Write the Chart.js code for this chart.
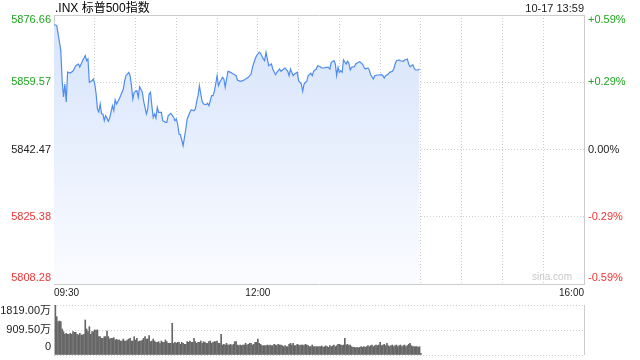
<!DOCTYPE html>
<html>
<head>
<meta charset="utf-8">
<script src="https://cdn.jsdelivr.net/npm/chart.js@4/dist/chart.umd.min.js"></script>
<style>
  html,body{margin:0;padding:0;background:#fff;}
  #wrap{position:relative;width:640px;height:360px;overflow:hidden;font-family:"Liberation Sans",Arial,"Noto Sans CJK SC",sans-serif;}
  #price{position:absolute;left:0;top:0;}
  #vol{position:absolute;left:0;top:300px;}
  #title{position:absolute;left:55px;top:0px;font-size:12px;line-height:16px;color:#000;white-space:nowrap;}
  #stamp{position:absolute;right:56px;top:0px;font-size:11px;line-height:16px;color:#222;white-space:nowrap;}
  #wm{position:absolute;left:532px;top:271px;font-size:10px;line-height:12px;color:#c8c8c8;}
</style>
</head>
<body>
<div id="wrap">
  <canvas id="price" width="640" height="300"></canvas>
  <canvas id="vol" width="640" height="60"></canvas>
  <div id="title">.INX 标普500指数</div>
  <div id="stamp">10-17 13:59</div>
  <div id="wm">sina.com</div>
</div>
<script>
// ---- data ----
const prevClose = 5842.47;
const priceTicks = [5808.28, 5825.38, 5842.47, 5859.57, 5876.66];
const priceTickLabels = ['5808.28', '5825.38', '5842.47', '5859.57', '5876.66'];
const pctTickLabels = ['-0.59%', '-0.29%', '0.00%', '+0.29%', '+0.59%'];
const timeTickValues = [0, 150, 390];
const timeTickLabels = ['09:30', '12:00', '16:00'];
const gridMinutes = [0, 30, 60, 90, 120, 150, 180, 210, 240, 270, 300, 330, 360, 390];
const volTicks = [0, 909.5, 1819];
const volTickLabels = ['0', '909.50万', '1819.00万'];

// minutes after 09:30
const minutes = [0,2,4,5,6,7,8,9,10,12,14,16,18,19,21,23,24,25,26,28,29,30,31,32,33,34,35,36,37,38,40,41,43,44,45,46,48,49,51,52,53,55,56,57,58,59,61,62,63,65,66,68,69,70,71,72,73,74,75,76,77,79,80,82,83,84,86,88,89,90,91,92,93,95,96,97,98,100,101,103,104,105,106,107,108,109,110,112,113,114,116,117,118,119,120,121,122,124,125,126,127,128,130,131,132,134,135,137,139,141,143,145,146,148,149,151,152,154,155,156,157,158,160,161,163,164,166,167,169,170,172,173,174,176,177,179,180,181,182,183,184,186,187,189,190,191,193,194,196,197,199,200,202,203,204,206,207,208,209,210,211,212,213,215,216,217,218,219,221,222,224,225,227,228,229,231,232,233,235,236,238,239,241,242,243,244,246,247,249,250,251,252,254,255,257,258,260,261,262,263,264,265,266,268,269];
const prices = [5874.19,5874.00,5869.80,5867.59,5859.96,5855.82,5859.12,5854.54,5862.17,5861.92,5862.42,5863.77,5864.20,5863.44,5865.04,5866.31,5865.04,5865.48,5859.55,5859.96,5860.39,5859.12,5856.58,5852.77,5852.00,5854.04,5851.49,5851.49,5849.79,5851.06,5849.64,5850.48,5853.60,5852.33,5855.05,5854.04,5855.31,5856.15,5857.85,5859.96,5861.23,5862.09,5861.23,5858.69,5855.31,5857.01,5857.42,5855.74,5858.43,5857.01,5854.72,5851.49,5852.77,5856.58,5857.01,5853.60,5850.66,5851.49,5850.48,5853.20,5851.93,5851.93,5849.79,5849.38,5849.38,5851.06,5851.67,5850.66,5849.79,5850.22,5848.95,5846.41,5846.23,5843.44,5845.57,5847.68,5850.22,5851.93,5852.59,5852.33,5852.77,5854.72,5856.15,5858.69,5856.58,5854.72,5854.04,5853.86,5854.21,5853.60,5856.15,5856.15,5857.26,5859.12,5861.23,5858.69,5859.55,5860.82,5860.39,5858.28,5860.39,5862.35,5862.09,5861.84,5861.66,5861.23,5860.14,5859.81,5859.96,5860.39,5860.82,5861.66,5863.37,5865.48,5866.31,5867.18,5866.92,5865.48,5865.04,5867.18,5865.48,5863.77,5864.20,5862.93,5861.48,5862.09,5862.93,5862.35,5862.93,5863.19,5862.35,5861.23,5862.93,5861.23,5861.66,5862.09,5859.96,5859.55,5859.12,5857.26,5859.12,5859.81,5861.23,5861.84,5861.23,5862.35,5862.93,5863.77,5863.52,5863.19,5863.19,5863.37,5863.37,5862.93,5864.64,5865.04,5864.20,5861.23,5863.37,5862.09,5862.50,5862.09,5865.22,5864.20,5864.89,5864.38,5862.68,5863.37,5863.52,5864.20,5864.64,5864.79,5864.20,5863.52,5862.93,5863.19,5862.68,5861.48,5860.39,5861.23,5861.41,5861.41,5861.48,5861.23,5860.65,5861.23,5861.66,5862.09,5862.35,5862.93,5864.20,5865.04,5865.22,5865.04,5864.89,5865.22,5865.48,5864.20,5863.52,5863.77,5864.03,5863.19,5862.68,5862.68,5862.93];

// volume per minute (万)
const volumes = [
1819,1395,1213,1237,1213,946,849,752,788,752,
752,788,752,849,825,825,752,728,788,728,
728,752,1274,946,849,1031,752,849,849,910,
910,910,667,667,607,607,667,667,873,667,
582,607,607,631,546,570,546,546,509,509,
582,509,509,546,582,607,509,509,667,546,
607,485,509,509,546,607,667,582,582,704,
485,509,582,509,461,461,485,425,509,461,
461,546,485,425,425,425,1152,425,461,425,
461,461,388,461,425,388,388,485,461,509,
461,461,607,485,425,461,461,509,425,485,
461,425,425,485,509,425,461,485,485,509,
425,425,752,364,388,364,425,364,364,388,
340,388,485,485,364,340,364,340,364,364,
425,364,388,425,425,364,388,461,461,582,
425,388,340,340,340,340,364,340,364,340,
340,388,364,340,388,364,364,340,303,340,
303,303,388,425,364,425,340,340,388,364,
340,364,364,340,388,364,340,303,303,364,
303,303,303,303,303,303,330,280,303,330,
303,280,340,303,330,364,303,340,388,388,
364,340,364,607,364,388,340,364,303,280,
280,260,280,260,280,303,280,303,280,303,
340,303,340,364,303,340,364,340,364,461,
340,364,388,340,425,340,303,340,364,303,
340,364,303,340,364,303,340,364,303,340,
388,425,340,303,303,303,303,280,303,60
];

// ---- styling ----
const FAMILY = '"Liberation Sans", Arial, "Noto Sans CJK SC", sans-serif';
const GREEN = '#1ea51e', RED = '#f23535', NEUTRAL = '#222';
const GRID = '#cdcdcd', FRAME = '#cccccc', CLEAR = 'rgba(0,0,0,0)';
function tickColor(v) { return v > prevClose + 0.001 ? GREEN : (v < prevClose - 0.001 ? RED : NEUTRAL); }
function edgeLabel(label, i, n) {
  if (i === n - 1) return ['', label];
  if (i === 0) return [label, ''];
  return label;
}
function edgeFont(i, n, topLH, botLH) {
  let lh = 1.2;
  if (i === n - 1) lh = topLH;
  else if (i === 0) lh = botLH;
  return { family: FAMILY, size: 11, lineHeight: lh };
}
function noPad(s) { s.paddingTop = 0; s.paddingBottom = 0; }
const pMin = priceTicks[0], pMax = priceTicks[priceTicks.length - 1];

new Chart(document.getElementById('price'), {
  type: 'line',
  data: {
    datasets: [{
      data: minutes.map((m, i) => ({ x: m, y: prices[i] })),
      borderColor: '#4f8cf0',
      borderWidth: 1.2,
      pointRadius: 0,
      tension: 0,
      fill: 'start',
      backgroundColor: (ctx) => {
        const a = ctx.chart.chartArea;
        if (!a) return CLEAR;
        const g = ctx.chart.ctx.createLinearGradient(0, a.top, 0, a.bottom);
        g.addColorStop(0, '#d5e3fb');
        g.addColorStop(1, '#fbfcff');
        return g;
      }
    }]
  },
  options: {
    responsive: false, animation: false, devicePixelRatio: 1,
    layout: { padding: { top: 15, left: 0, right: 0, bottom: 0 } },
    plugins: { legend: { display: false }, tooltip: { enabled: false } },
    scales: {
      x: {
        type: 'linear', position: 'bottom', min: 0, max: 390,
        afterBuildTicks: (s) => { s.ticks = gridMinutes.map(v => ({ value: v })); },
        afterFit: (s) => { s.height = 16; s.paddingLeft = 0; s.paddingRight = 0; },
        grid: { drawTicks: false, color: (c) => (c.tick && (c.tick.value === 0 || c.tick.value === 390)) ? CLEAR : GRID },
        border: { display: true, color: FRAME, dash: [1, 2] },
        ticks: {
          autoSkip: false, maxRotation: 0, minRotation: 0, align: 'inner', padding: 3,
          color: '#222', font: { family: FAMILY, size: 10 },
          callback: (v) => { const k = timeTickValues.indexOf(v); return k >= 0 ? timeTickLabels[k] : ''; }
        }
      },
      x2: {
        type: 'linear', position: 'top', min: 0, max: 390,
        afterFit: (s) => { s.height = 0; },
        grid: { display: false, drawTicks: false },
        ticks: { display: false },
        border: { display: true, color: FRAME }
      },
      y: {
        type: 'linear', position: 'left', min: pMin, max: pMax,
        afterBuildTicks: (s) => { s.ticks = priceTicks.map(v => ({ value: v })); },
        afterFit: (s) => { s.width = 54; noPad(s); },
        grid: { drawTicks: false, color: (c) => (c.index === 0 || c.index === priceTicks.length - 1) ? CLEAR : GRID },
        border: { display: true, color: FRAME, dash: [1, 2] },
        ticks: {
          autoSkip: false, padding: 3,
          color: (c) => tickColor(priceTicks[c.index]),
          font: (c) => edgeFont(c.index, priceTicks.length, '9.6px', '12px'),
          callback: (v, i) => edgeLabel(priceTickLabels[i], i, priceTicks.length)
        }
      },
      y2: {
        type: 'linear', position: 'right', min: pMin, max: pMax,
        afterBuildTicks: (s) => { s.ticks = priceTicks.map(v => ({ value: v })); },
        afterFit: (s) => { s.width = 56; noPad(s); },
        grid: { display: false, drawTicks: false },
        border: { display: true, color: FRAME },
        ticks: {
          autoSkip: false, padding: 4,
          color: (c) => tickColor(priceTicks[c.index]),
          font: (c) => edgeFont(c.index, priceTicks.length, '9.6px', '12px'),
          callback: (v, i) => edgeLabel(pctTickLabels[i], i, priceTicks.length)
        }
      }
    }
  }
});

new Chart(document.getElementById('vol'), {
  type: 'bar',
  data: {
    datasets: [{
      data: volumes.map((v, i) => ({ x: i + 1, y: v })),
      backgroundColor: '#666666',
      borderWidth: 0,
      barThickness: 1
    }]
  },
  options: {
    responsive: false, animation: false, devicePixelRatio: 1,
    layout: { padding: { top: 5, bottom: 5, left: 0, right: 56 } },
    plugins: { legend: { display: false }, tooltip: { enabled: false } },
    scales: {
      x: {
        type: 'linear', min: 0, max: 390, offset: false,
        afterBuildTicks: (s) => { s.ticks = [{ value: 0 }, { value: 390 }]; },
        afterFit: (s) => { s.height = 0; s.paddingLeft = 0; s.paddingRight = 0; },
        ticks: { display: false },
        grid: { drawTicks: false, offset: false, color: (c) => (c.tick && c.tick.value === 390) ? FRAME : CLEAR },
        border: { display: false, dash: [] }
      },
      y: {
        type: 'linear', min: 0, max: volTicks[volTicks.length - 1],
        afterBuildTicks: (s) => { s.ticks = volTicks.map(v => ({ value: v })); },
        afterFit: (s) => { s.width = 54; noPad(s); },
        grid: { drawTicks: false, color: GRID },
        border: { display: false, dash: [1, 2] },
        ticks: {
          autoSkip: false, padding: 3, color: '#222',
          font: (c) => edgeFont(c.index, volTicks.length, '11px', '16px'),
          callback: (v, i) => edgeLabel(volTickLabels[i], i, volTicks.length)
        }
      }
    }
  }
});
</script>
</body>
</html>
